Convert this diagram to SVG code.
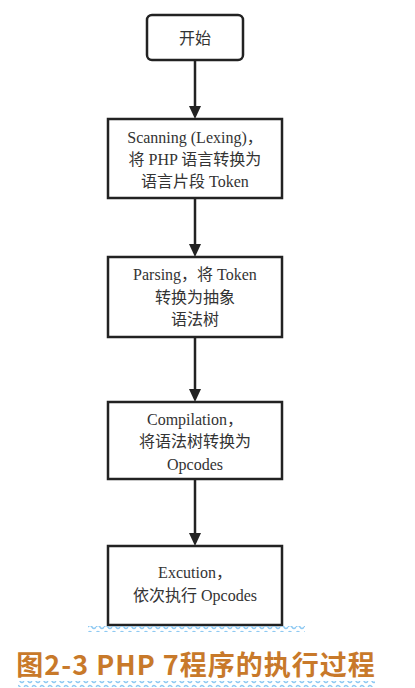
<svg xmlns="http://www.w3.org/2000/svg" width="415" height="688" viewBox="0 0 415 688">
<defs>
<style>
.box{fill:#fff;stroke:#222;stroke-width:2.5}
.t{font-family:"Liberation Serif","Noto Sans CJK SC",serif;font-size:16px;fill:#333;text-anchor:middle}
.c{stroke:#222;stroke-width:2.5;fill:none}
.cap{font-family:"Noto Sans CJK SC","Open Sans",sans-serif;font-size:27px;font-weight:bold;fill:#c8792a;text-anchor:middle;letter-spacing:1px}
</style>
<pattern id="wv" width="8" height="6" patternUnits="userSpaceOnUse">
<path d="M0,3 Q2,0 4,3 T8,3" fill="none" stroke="#8ec9f2" stroke-width="1.5"/>
</pattern>
</defs>
<rect width="415" height="688" fill="#fff"/>
<g id="connectors">
<line class="c" x1="195" y1="60" x2="195" y2="107"/>
<path d="M189,106 L201,106 L195,119 Z" fill="#222"/>
<line class="c" x1="195" y1="198" x2="195" y2="245"/>
<path d="M189,244 L201,244 L195,257 Z" fill="#222"/>
<line class="c" x1="195" y1="337" x2="195" y2="390"/>
<path d="M189,389 L201,389 L195,402 Z" fill="#222"/>
<line class="c" x1="195" y1="479" x2="195" y2="534"/>
<path d="M189,533 L201,533 L195,546 Z" fill="#222"/>
</g>
<g id="start">
<rect class="box" x="147" y="15" width="96" height="45" rx="5"/>
<text class="t" x="195" y="44">开始</text>
</g>
<g id="scanning">
<rect class="box" x="108" y="119" width="174" height="79"/>
<text class="t" x="195" y="143">Scanning (Lexing)，</text>
<text class="t" x="195" y="165">将 PHP 语言转换为</text>
<text class="t" x="195" y="187">语言片段 Token</text>
</g>
<g id="parsing">
<rect class="box" x="108" y="257" width="174" height="80"/>
<text class="t" x="195" y="280">Parsing，将 Token</text>
<text class="t" x="195" y="303">转换为抽象</text>
<text class="t" x="195" y="325">语法树</text>
</g>
<g id="compilation">
<rect class="box" x="108" y="402" width="174" height="77"/>
<text class="t" x="195" y="425">Compilation，</text>
<text class="t" x="195" y="447">将语法树转换为</text>
<text class="t" x="195" y="470">Opcodes</text>
</g>
<g id="execution">
<rect class="box" x="108" y="546" width="174" height="79"/>
<text class="t" x="195" y="578">Excution，</text>
<text class="t" x="195" y="601">依次执行 Opcodes</text>
</g>
<rect x="88" y="626" width="217" height="6" fill="url(#wv)"/>
<text class="cap" x="196" y="675">图2-3 PHP 7程序的执行过程</text>
<rect x="18" y="681" width="357" height="6" fill="url(#wv)"/>
</svg>
